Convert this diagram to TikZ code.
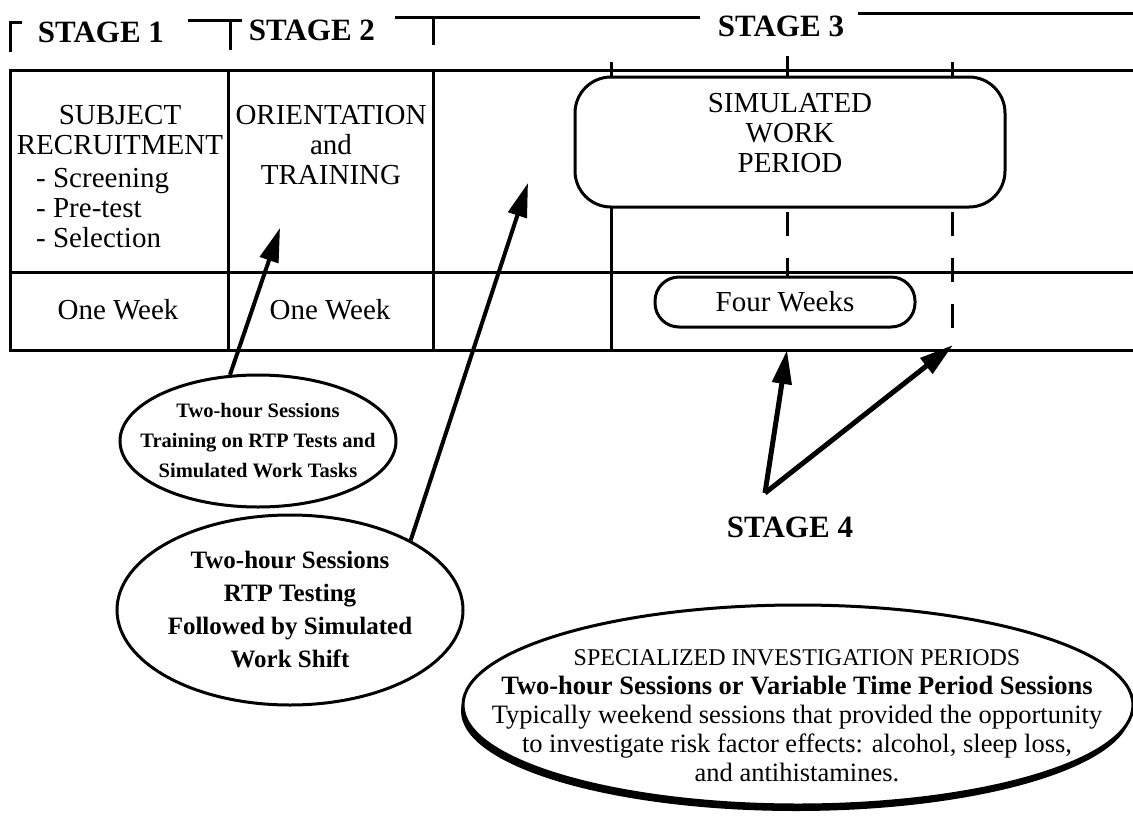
\documentclass[tikz,border=0pt]{standalone}
\usepackage{fontspec}
\setmainfont{Liberation Serif}
\usetikzlibrary{arrows.meta, shapes.geometric, positioning}

\tikzset{
  bx/.style={line width=3pt},
  txt/.style={align=center, inner sep=0pt, font=\fontsize{29}{30}\selectfont},
  btxt/.style={align=center, inner sep=0pt, font=\fontsize{25}{33}\selectfont\bfseries},
  stg/.style={inner sep=0pt, font=\fontsize{31}{32}\selectfont\bfseries},
  oval/.style={ellipse, draw, line width=3pt, fill=white, inner sep=0pt},
  arr/.style={line width=4pt, -{Triangle[length=34pt,width=19pt]}},
}

\begin{document}
\begin{tikzpicture}[x=1pt, y=-1pt]
\useasboundingbox (0,0) rectangle (1133,819);

\node[stg] (st1) at (101,32) {STAGE 1};
\node[stg] (st2) at (312,30) {STAGE 2};
\node[stg] (st3) at (781,26) {STAGE 3};

\draw[bx]
(10,52) -- (10,22) -- (22,22)
(188,20) -- (242,20) (230,20) -- (230,50)
(395,17) -- (700,17) (433,17) -- (433,45)
(858,13) -- (1133,13);

\draw[bx]
(1133,70) -- (10,70) -- (10,350) -- (1133,350)
(10,272) -- (1133,272)
(228,70) -- (228,350)
(433,70) -- (433,350)
(611,207) -- (611,350)
(611,62) -- (611,77)
(787,56) -- (787,77)
(952,62) -- (952,77);

\draw[bx, dash pattern=on 24pt off 22pt] (787,212) -- (787,350) (952,212) -- (952,350);

\node[draw, line width=3pt, fill=white, rounded corners=36pt, minimum width=430, minimum height=130] (swp) at (790,142) {};
\node[txt] (swpt) at (790,133) {SIMULATED\\WORK\\PERIOD};
\node[draw, line width=3pt, fill=white, rounded corners=24pt, minimum width=260, minimum height=50] (fw) at (785,302) {};
\node[txt] (fwt) at (fw) {Four Weeks};

\node[txt] (subj) at (120,130) {SUBJECT\\RECRUITMENT};
\node[txt, align=left, anchor=west] (list) at (36,208) {- Screening\\- Pre-test\\- Selection};
\node[txt] (orient) at (331,145) {ORIENTATION\\and\\TRAINING};
\node[txt] (wk1) at (118,310) {One Week};
\node[txt] (wk2) at (330,310) {One Week};

\node[oval, minimum width=276, minimum height=132] (s1) at (258,441) {};
\node[btxt, font=\fontsize{20.5}{30}\selectfont\bfseries] (s1t) at (s1) {Two-hour Sessions\\Training on RTP Tests and\\Simulated Work Tasks};
\node[oval, minimum width=346, minimum height=190] (s2) at (290,610) {};
\node[btxt] (s2t) at (s2) {Two-hour Sessions\\RTP Testing\\Followed by Simulated\\Work Shift};

\node[ellipse, fill=black, minimum width=670, minimum height=200] (s3sh) at (796,711) {};
\node[oval, minimum width=670, minimum height=200] (s3) at (798,705) {};
\node[align=center, inner sep=0pt, font=\fontsize{26.5}{29}\selectfont] (s3t) at (797,716)
  {{\fontsize{24}{29}\selectfont SPECIALIZED INVESTIGATION PERIODS}\\
   \textbf{Two-hour Sessions or Variable Time Period Sessions}\\
   Typically weekend sessions that provided the opportunity\\
   to investigate risk factor effects: alcohol, sleep loss,\\
   and antihistamines.};

\node[stg] (st4) at (790,527) {STAGE 4};

\coordinate (tip1) at (280,228);
\coordinate (tip2) at (528,183);
\coordinate (tip3) at (787,350);
\coordinate (tip4) at (953,345);
\coordinate (v4) at (765,493);

\draw[arr] (s1.113) -- (tip1);
\draw[arr] (s2.30) -- (tip2);
\draw[arr, line width=5pt] (v4) -- (tip3);
\draw[arr, line width=5pt] (v4) -- (tip4);
\end{tikzpicture}
\end{document}
